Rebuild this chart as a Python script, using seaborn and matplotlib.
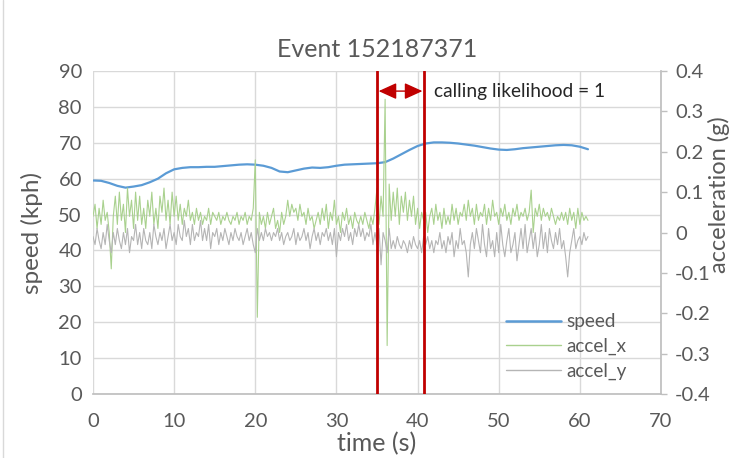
import numpy as np
import pandas as pd
import matplotlib
matplotlib.use("Agg")
import matplotlib.pyplot as plt
import seaborn as sns
from matplotlib.lines import Line2D

# ---------------- data ----------------
speed_time = list(range(0, 62))
speed = [59.5, 59.4, 58.8, 58.0, 57.5, 57.8, 58.2, 59.0, 60.0, 61.5,
         62.6, 63.0, 63.2, 63.2, 63.3, 63.3, 63.5, 63.7, 63.9, 64.0,
         63.9, 63.6, 63.0, 62.0, 61.8, 62.3, 62.8, 63.1, 63.0, 63.2,
         63.6, 63.9, 64.0, 64.1, 64.2, 64.3, 64.6, 65.6, 66.8, 68.0,
         69.1, 69.8, 70.1, 70.1, 70.0, 69.8, 69.5, 69.2, 68.8, 68.4,
         68.1, 68.0, 68.2, 68.5, 68.7, 68.9, 69.1, 69.3, 69.4, 69.3,
         68.9, 68.2]

accel_time = [i * 0.25 for i in range(0, 245)]
accel_x = [
    0.04, 0.07, 0.01, 0.06,  0.02, 0.08, 0.03, 0.05,  0.00, -0.09, 0.04, 0.09,
    0.02, 0.10, 0.03, 0.07,  0.00, 0.11, 0.04, 0.08,  0.01, 0.10, 0.03, 0.09,
    0.02, 0.06, 0.01, 0.08,  0.04, 0.10, 0.02, 0.06,  0.01, 0.09, 0.05, 0.11,
    0.03, 0.08, 0.02, 0.10,  0.04, 0.09, 0.03, 0.07,  0.02, 0.06, 0.04, 0.08,
    0.03, 0.05, 0.02, 0.06,  0.03, 0.05, 0.02, 0.04,  0.03, 0.06, 0.02, 0.05,
    0.04, 0.03, 0.05, 0.02,  0.04, 0.03, 0.05, 0.03,  0.02, 0.04, 0.03, 0.05,
    0.02, 0.04, 0.03, 0.05,  0.02, 0.04, 0.03, 0.06,  0.18, -0.21, 0.05, 0.02,
    0.04, 0.01, 0.05, 0.02,  0.04, 0.06, 0.01, 0.03,  0.00, 0.05, 0.02, 0.04,
    0.08, 0.04, 0.07, 0.05,  0.06, 0.03, 0.07, 0.04,  0.05, 0.02, 0.06, 0.03,
    0.04, 0.01, 0.03, 0.05,  0.02, 0.06, 0.03, 0.07,  0.01, 0.05, 0.03, 0.08,
    0.02, 0.04, 0.00, 0.05,  0.03, 0.06, 0.02, 0.04,  0.01, 0.05, 0.03, 0.02,
    0.04, 0.02, 0.05, 0.03,  0.01, 0.04, 0.02, 0.06,  0.11, 0.02, 0.09, 0.04,
    0.33, -0.28, 0.12, 0.03,  0.10, 0.04, 0.11, 0.02,  0.09, 0.05, 0.10, 0.03,
    0.08, 0.04, 0.09, 0.02,  0.06, 0.01, 0.05, 0.03,  0.05, 0.00, 0.04, 0.06,
    0.02, 0.07, 0.03, 0.05,  0.01, 0.06, 0.02, 0.04,  0.02, 0.07, 0.03, 0.06,
    0.02, 0.05, 0.04, 0.07,  0.03, 0.08, 0.04, 0.06,  0.02, 0.07, 0.03, 0.05,
    0.04, 0.07, 0.02, 0.06,  0.03, 0.08, 0.04, 0.05,  0.02, 0.06, 0.04, 0.07,
    0.03, 0.05, 0.02, 0.06,  0.04, 0.07, 0.03, 0.05,  0.04, 0.06, 0.03, 0.05,
    0.105, 0.00, 0.06, 0.04,  0.07, 0.03, 0.06, 0.04,  0.05, 0.03, 0.06, 0.04,
    0.02, 0.04, 0.03, 0.05,  0.03, 0.05, 0.02, 0.06,  0.03, 0.05, 0.01, 0.06,
    0.02, 0.05, 0.03, 0.04,  0.03,
]
accel_y = [
    -0.01, -0.03, 0.01, -0.02,  -0.04, 0.00, -0.03, 0.02,  -0.02, -0.05, 0.00, -0.03,
    0.01, -0.02, -0.04, 0.00,  -0.03, 0.01, -0.05, -0.01,  -0.02, 0.02, -0.03, 0.00,
    -0.04, 0.01, -0.02, -0.03,  0.00, -0.04, 0.02, -0.01,  -0.03, 0.00, -0.02, 0.01,
    -0.04, -0.01, 0.02, -0.02,  0.00, -0.03, 0.02, -0.01,  -0.02, 0.03, -0.01, 0.01,
    -0.03, 0.02, -0.02, 0.00,  -0.01, 0.03, -0.02, 0.01,  -0.02, 0.02, -0.04, 0.00,
    -0.01, 0.01, -0.03, 0.00,  -0.02, 0.01, -0.01, -0.03,  0.00, -0.02, 0.01, -0.01,
    -0.02, 0.00, -0.03, -0.01,  0.01, -0.02, 0.00, -0.03,  -0.05, 0.01, -0.02, 0.00,
    -0.02, 0.01, -0.01, 0.00,  -0.02, 0.00, -0.01, 0.01,  -0.02, 0.00, -0.03, -0.01,
    0.00, -0.02, -0.01, 0.01,  -0.03, 0.00, -0.02, -0.01,  0.01, -0.02, 0.00, -0.04,
    -0.01, 0.01, -0.02, 0.00,  -0.03, 0.00, -0.01, 0.01,  -0.02, 0.00, -0.03, 0.01,
    -0.06, 0.00, -0.02, 0.01,  -0.01, 0.02, -0.02, 0.00,  -0.03, 0.01, -0.01, 0.02,
    -0.01, 0.01, -0.02, 0.00,  -0.01, 0.02, -0.03, 0.00,  -0.03, 0.01, -0.08, 0.00,
    -0.02, -0.05, 0.01, -0.04,  -0.02, -0.04, -0.01, -0.03,  -0.04, -0.02, -0.03, -0.05,
    -0.02, -0.04, -0.01, -0.03,  -0.04, -0.02, -0.05, -0.01,  -0.03, -0.01, -0.04, -0.02,
    -0.05, -0.02, -0.03, 0.00,  -0.04, -0.02, -0.05, -0.01,  -0.03, 0.00, -0.06, -0.02,
    -0.04, 0.01, -0.03, -0.02,  -0.05, -0.11, -0.03, 0.00,  -0.04, 0.01, -0.02, -0.05,
    0.02, -0.03, -0.06, 0.01,  -0.04, -0.02, -0.06, 0.00,  -0.05, 0.02, -0.03, -0.06,
    -0.02, 0.01, -0.05, -0.03,  0.00, -0.07, -0.03, 0.01,  -0.04, 0.02, -0.05, -0.02,
    0.01, -0.04, 0.00, -0.06,  -0.03, 0.02, -0.04, 0.00,  -0.05, 0.01, -0.02, -0.04,
    0.00, -0.03, 0.01, -0.04,  -0.02, -0.06, -0.11, -0.05,  -0.02, 0.01, -0.04, -0.02,
    -0.01, -0.03, 0.00, -0.02,  -0.01,
]

call_start, call_end = 35.0, 40.8
title = "Event 152187371"
annotation = "calling likelihood = 1"
x_ticks = [0, 10, 20, 30, 40, 50, 60, 70]
speed_ticks = [0, 10, 20, 30, 40, 50, 60, 70, 80, 90]
accel_ticks = [-0.4, -0.3, -0.2, -0.1, 0, 0.1, 0.2, 0.3, 0.4]
accel_tick_labels = ["-0.4", "-0.3", "-0.2", "-0.1", "0", "0.1", "0.2", "0.3", "0.4"]

df_speed = pd.DataFrame({"time": speed_time, "speed": speed})
df_acc = pd.DataFrame({"time": accel_time, "accel_x": accel_x, "accel_y": accel_y})

# ---------------- style ----------------
sns.set_theme(style="white")
plt.rcParams["font.family"] = ["Lato", "DejaVu Sans"]
TXT = "#595959"
GRID = "#D9D9D9"
BLUE = "#5B9BD5"
GREEN = "#A9D18E"
GRAY = "#B5B5B5"
RED = "#C00000"

fig = plt.figure(figsize=(7.31, 4.58), dpi=100)
ax = fig.add_axes([93 / 731, 1 - 394 / 458, (661 - 93) / 731, (394 - 71) / 458])
ax2 = ax.twinx()

sns.lineplot(data=df_speed, x="time", y="speed", ax=ax, color=BLUE, linewidth=1.6, label="speed", legend=False)
sns.lineplot(data=df_acc, x="time", y="accel_x", ax=ax2, color=GREEN, linewidth=0.8, label="accel_x", legend=False)
sns.lineplot(data=df_acc, x="time", y="accel_y", ax=ax2, color=GRAY, linewidth=0.8, label="accel_y", legend=False)

ax.set_xlim(0, 70)
ax.set_ylim(0, 90)
ax2.set_ylim(-0.4, 0.4)
ax.set_xticks(x_ticks)
ax.set_yticks(speed_ticks)
ax2.set_yticks(accel_ticks)
ax2.set_yticklabels(accel_tick_labels)

ax.grid(True, color=GRID, linewidth=1.0)
ax.set_axisbelow(True)
ax.set_zorder(0)
ax2.set_zorder(1)
ax2.patch.set_visible(False)

for a in (ax, ax2):
    for s in ("top", "left", "right", "bottom"):
        a.spines[s].set_visible(False)
ax.spines["bottom"].set_visible(True)
ax.spines["bottom"].set_color("#BFBFBF")
ax2.spines["right"].set_visible(True)
ax2.spines["right"].set_color("#BFBFBF")

ax.tick_params(axis="both", colors=TXT, labelsize=14.5, length=0, pad=8)
ax.tick_params(axis="x", pad=14)
ax2.tick_params(axis="y", colors=TXT, labelsize=14.5, length=4, width=1, direction="out", pad=6)
ax2.tick_params(axis="y", color="#BFBFBF")

ax.set_xlabel("time (s)", color=TXT, fontsize=18, labelpad=1)
ax.set_ylabel("speed (kph)", color=TXT, fontsize=17.5)
ax.yaxis.set_label_coords(-0.088, 0.5)
ax2.set_ylabel("acceleration (g)", color=TXT, fontsize=17)
ax2.yaxis.set_label_coords(1.083, 0.616)
ax.set_title(title, color=TXT, fontsize=18, pad=10)

# calling window
for xv in (call_start, call_end):
    ax2.axvline(xv, color=RED, linewidth=2.0, zorder=5)
ax.annotate("", xy=(call_start + 0.2, 84.4), xytext=(call_end - 0.2, 84.4),
            xycoords="data",
            arrowprops=dict(arrowstyle="<|-|>,head_length=1.1,head_width=0.5",
                            color=RED, lw=1.0, mutation_scale=10,
                            shrinkA=0, shrinkB=0),
            zorder=6, annotation_clip=False)
ax.text(call_end + 1.2, 84.4, annotation, fontsize=13.8, color="#262626", va="center", ha="left", zorder=6)

handles = [Line2D([0], [0], color=BLUE, lw=1.8), Line2D([0], [0], color=GREEN, lw=1.0),
           Line2D([0], [0], color=GRAY, lw=1.0)]
leg = ax2.legend(handles, ["speed", "accel_x", "accel_y"], loc="lower right",
                 bbox_to_anchor=(0.97, -0.01), frameon=False, fontsize=13.6,
                 handlelength=2.9, handletextpad=0.3, labelspacing=0.41)
for t in leg.get_texts():
    t.set_color(TXT)

fig.add_artist(Line2D([3 / 731, 3 / 731], [0, 1], transform=fig.transFigure, color="#D9D9D9", lw=1))

fig.savefig("out.png", dpi=100)
